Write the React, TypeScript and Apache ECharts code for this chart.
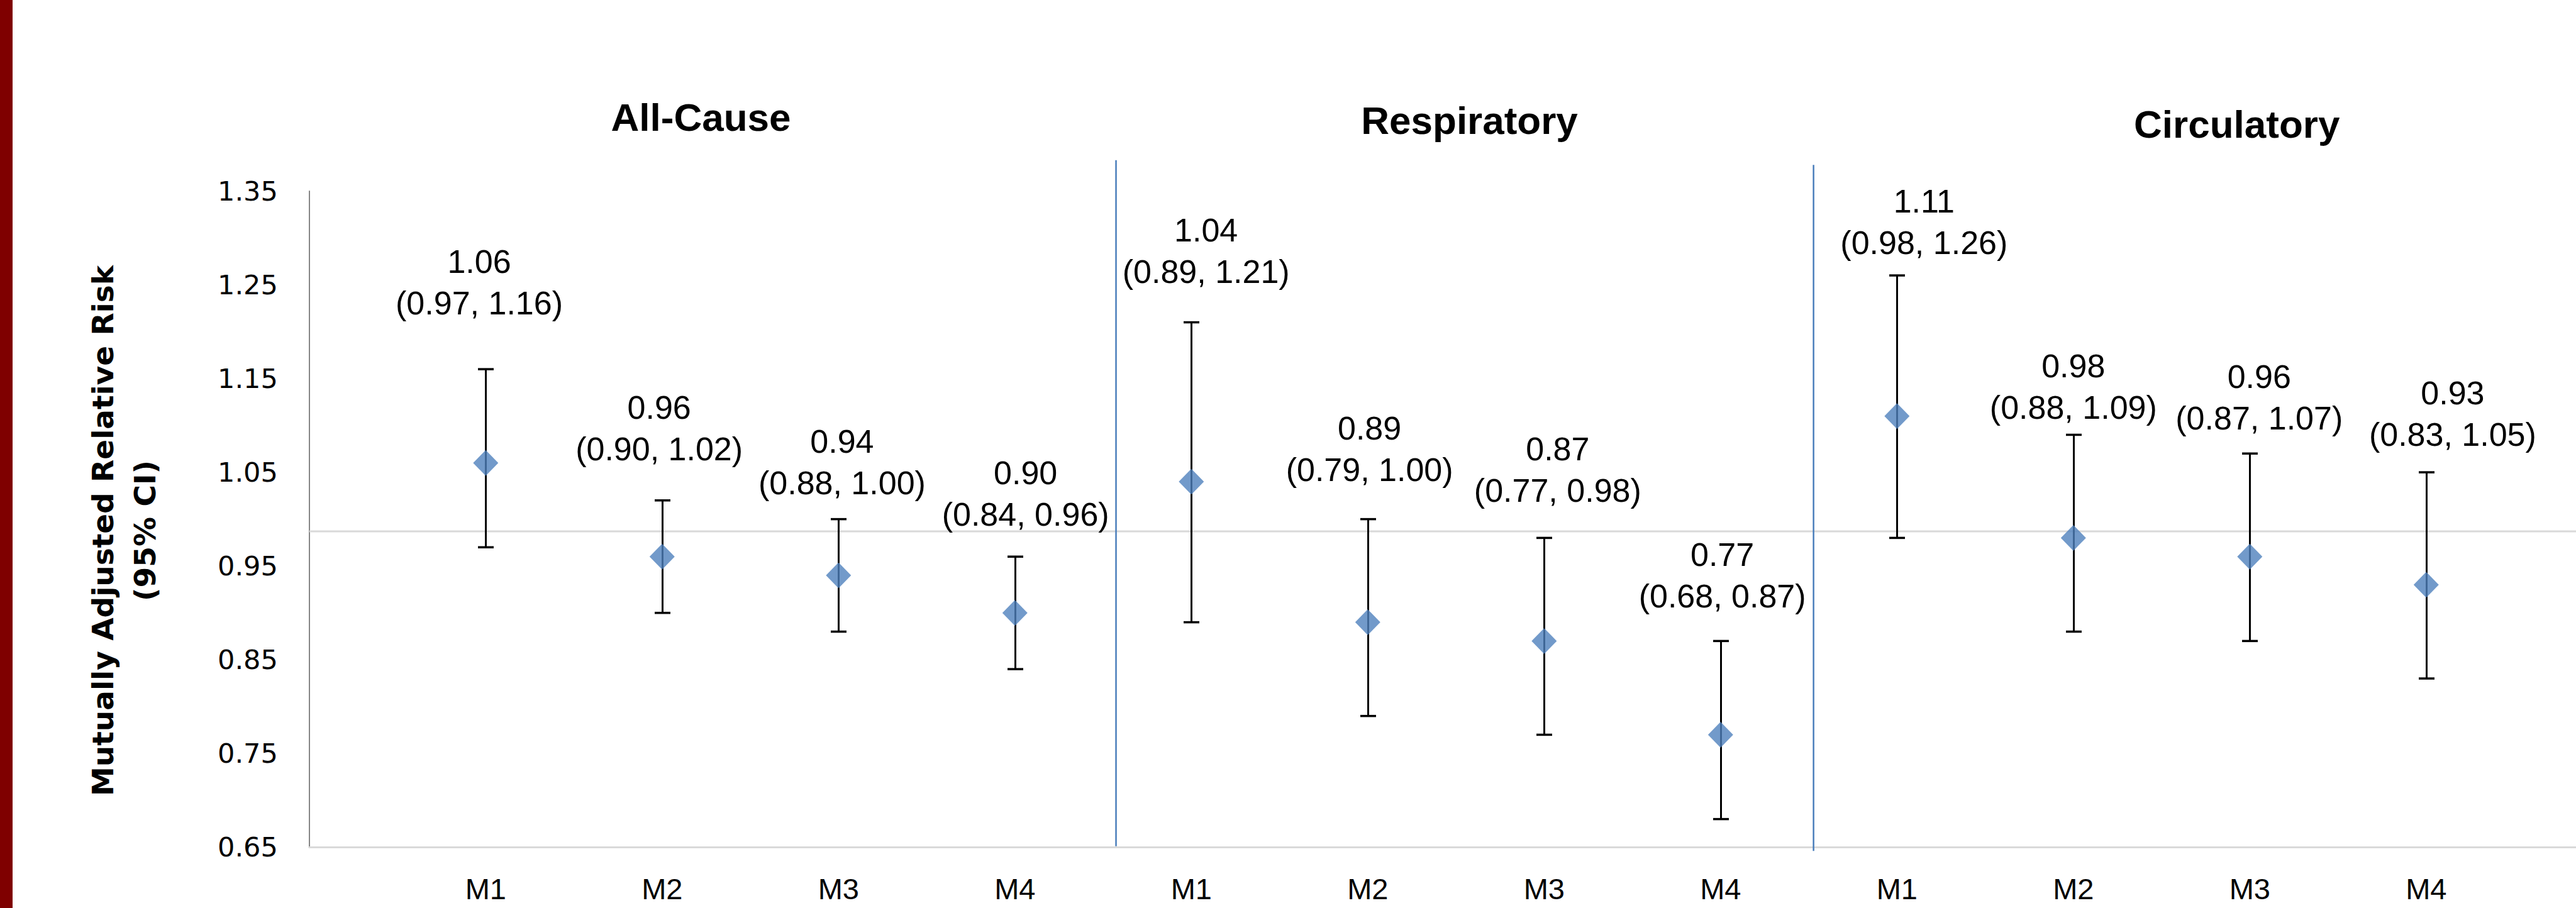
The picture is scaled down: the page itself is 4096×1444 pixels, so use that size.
import React, { useEffect, useRef } from "react";
import * as echarts from "echarts";

// ---------- data ----------
const groups = ["All-Cause", "Respiratory", "Circulatory"];
const models = ["M1", "M2", "M3", "M4"];
const rr = [1.06, 0.96, 0.94, 0.9, 1.04, 0.89, 0.87, 0.77, 1.11, 0.98, 0.96, 0.93];
const ciLow = [0.97, 0.9, 0.88, 0.84, 0.89, 0.79, 0.77, 0.68, 0.98, 0.88, 0.87, 0.83];
const ciHigh = [1.16, 1.02, 1.0, 0.96, 1.21, 1.0, 0.98, 0.87, 1.26, 1.09, 1.07, 1.05];
const yMin = 0.65;
const yMax = 1.35;
const yStep = 0.1;
const refLineValue = 0.987;

// ---------- layout (reference px, scaled by S) ----------
const S = 0.935;
const W = 4096;
const H = 1444;
const gridLeft = 526 * S;
const gridTop = 325 * S;
const gridBottom = H - 1441 * S;
const catWidth = 300 * S;
const xMax = (W - gridLeft) / catWidth;
const sepX = [4.573, 8.527];
const sepTop = [1.383, 1.378];
const sepBottom = [0.651, 0.646];
const labelDx = [-11, -5, 6, 18, 25, 3, 23, 3, 46, 0, 16, 45];
const labelGap = [112, 87, 62, 72, 86, 84, 81, 76, 56, 46, 60, 64];
const titlePos = [
  [1192, 199],
  [2499, 205],
  [3804, 211],
];

const BLUE = "#4F81BD";

export default function App() {
  const ref = useRef<HTMLDivElement>(null);
  useEffect(() => {
    document.body.style.margin = "0";
    const chart = echarts.init(ref.current!, null, { renderer: "svg", width: W, height: H });
    const xs = rr.map((_, i) => Math.floor(i / models.length) * models.length + (i % models.length) + 1);
    const pointData = rr.map((v, i) => [xs[i], v]);
    const barData = rr.map((v, i) => [xs[i], ciLow[i], ciHigh[i], v]);
    const labelFont = 52;
    const labelLH = 66;
    const capW = 25;

    const option: any = {
      animation: false,
      backgroundColor: "#ffffff",
      grid: { left: gridLeft, right: 0, top: gridTop, bottom: gridBottom, containLabel: false },
      xAxis: {
        type: "value",
        min: 0,
        max: xMax,
        interval: 1,
        axisLine: { show: true, lineStyle: { color: "#D9D9D9", width: 3 } },
        axisTick: { show: false },
        splitLine: { show: false },
        axisLabel: {
          margin: 43,
          fontFamily: "Liberation Sans",
          fontSize: 47,
          color: "#000",
          showMaxLabel: false,
          formatter: (v: number) => {
            const k = Math.round(v);
            if (Math.abs(v - k) > 1e-6 || k < 1 || k > groups.length * models.length) return "";
            return models[(k - 1) % models.length];
          },
        },
      },
      yAxis: {
        type: "value",
        min: yMin,
        max: yMax,
        interval: yStep,
        axisLine: { show: true, lineStyle: { color: "#868686", width: 2 } },
        axisTick: { show: false },
        splitLine: { show: false },
        axisLabel: {
          margin: 50,
          fontFamily: "DejaVu Sans",
          fontSize: 43,
          color: "#000",
          formatter: (v: number) => v.toFixed(2),
        },
      },
      graphic: [
        { type: "rect", left: 0, top: 0, shape: { x: 0, y: 0, width: 20, height: H }, style: { fill: "#7F0000" } },
        {
          type: "text",
          x: 197,
          y: 844,
          rotation: Math.PI / 2,
          style: {
            text: "Mutually Adjusted Relative Risk\n(95% CI)",
            fontFamily: "DejaVu Sans",
            fontWeight: "bold",
            fontSize: 47,
            lineHeight: 67,
            fill: "#000",
            align: "center",
            verticalAlign: "middle",
            textAlign: "center",
            textVerticalAlign: "middle",
          },
        },
        ...groups.map((g, i) => ({
          type: "text",
          x: titlePos[i][0] * S,
          y: titlePos[i][1] * S,
          style: {
            text: g,
            fontFamily: "Liberation Sans",
            fontWeight: "bold",
            fontSize: 62,
            fill: "#000",
            align: "center",
            verticalAlign: "middle",
            textAlign: "center",
            textVerticalAlign: "middle",
          },
        })),
      ],
      series: [
        {
          type: "line",
          data: [
            [0, refLineValue],
            [xMax, refLineValue],
          ],
          symbol: "none",
          silent: true,
          z: 1,
          lineStyle: { color: "#D9D9D9", width: 3 },
        },
        ...sepX.map((x, i) => ({
          type: "line",
          data: [
            [x, sepBottom[i]],
            [x, sepTop[i]],
          ],
          symbol: "none",
          silent: true,
          clip: false,
          z: 2,
          lineStyle: { color: "#4A7EBB", width: 2.5 },
        })),
        {
          type: "custom",
          data: barData,
          clip: false,
          z: 3,
          renderItem: (params: any, api: any) => {
            const x = api.value(0);
            const lo = api.value(1);
            const hi = api.value(2);
            const v = api.value(3);
            const pLo = api.coord([x, lo]);
            const pHi = api.coord([x, hi]);
            const i = params.dataIndex;
            const half = capW / 2;
            const cx = Math.round(pHi[0]) + 0.5;
            const text = `${v.toFixed(2)}\n(${lo.toFixed(2)}, ${hi.toFixed(2)})`;
            return {
              type: "group",
              children: [
                { type: "line", shape: { x1: cx, y1: pLo[1], x2: cx, y2: pHi[1] }, style: { stroke: "#000", lineWidth: 3 } },
                { type: "line", shape: { x1: cx - half, y1: pHi[1], x2: cx + half, y2: pHi[1] }, style: { stroke: "#000", lineWidth: 3.5 } },
                { type: "line", shape: { x1: cx - half, y1: pLo[1], x2: cx + half, y2: pLo[1] }, style: { stroke: "#000", lineWidth: 3.5 } },
                {
                  type: "text",
                  x: pHi[0] + labelDx[i] * S,
                  y: pHi[1] - labelGap[i] * S - labelLH / 2,
                  style: {
                    text,
                    fontFamily: "Liberation Sans",
                    fontSize: labelFont,
                    lineHeight: labelLH,
                    fill: "#000",
                    align: "center",
                    verticalAlign: "middle",
                    textAlign: "center",
                    textVerticalAlign: "middle",
                  },
                },
              ],
            };
          },
        },
        {
          type: "scatter",
          data: pointData,
          symbol: "diamond",
          symbolSize: [40, 41],
          z: 4,
          itemStyle: { color: BLUE },
        },
      ],
    };
    chart.setOption(option);
    return () => chart.dispose();
  }, []);
  return <div ref={ref} style={{ position: "absolute", left: 0, top: 0, width: W, height: H }} />;
}
